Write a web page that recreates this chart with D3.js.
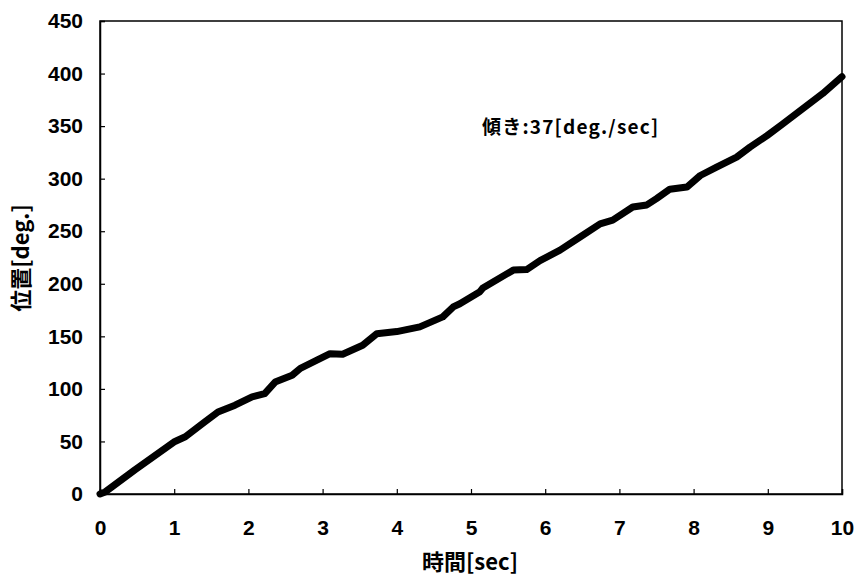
<!DOCTYPE html>
<html>
<head>
<meta charset="utf-8">
<script src="https://cdn.jsdelivr.net/npm/d3@7"></script>
<style>
  html, body { margin: 0; padding: 0; background: #fff; }
  svg { display: block; }
  .tick text { font-family: "Liberation Sans", Arial, sans-serif; font-weight: bold; font-size: 21px; fill: #000; }
  .title { font-family: "Noto Sans CJK JP", "Liberation Sans", sans-serif; font-weight: bold; fill: #000; }
</style>
</head>
<body>
<svg id="chart" width="860" height="577"></svg>
<script>
// Measured angular position against time
const timeSec = [0, 0.07, 0.47, 1.01, 1.15, 1.41, 1.59, 1.82, 2.05, 2.22, 2.36, 2.59, 2.70,
  3.10, 3.27, 3.54, 3.73, 4.00, 4.31, 4.62, 4.76, 4.85, 5.12, 5.16, 5.57, 5.75, 5.93, 6.20,
  6.47, 6.74, 6.91, 7.18, 7.37, 7.50, 7.68, 7.91, 8.09, 8.31, 8.58, 8.76, 8.99, 9.20, 9.47,
  9.74, 10.0];
const positionDeg = [0, 2, 23, 50, 54.5, 68.5, 78, 84.5, 92.5, 95.5, 106.5, 113, 119.5,
  133.5, 133, 141.5, 152.5, 154.5, 159, 168.5, 178, 181, 192.5, 196, 213, 213.5, 222, 232,
  244.5, 257, 260.5, 273, 275, 281, 290, 292, 303, 311, 320.5, 330, 341, 352, 366.5,
  381, 397];

const xTicks = [0, 1, 2, 3, 4, 5, 6, 7, 8, 9, 10];
const yTicks = [0, 50, 100, 150, 200, 250, 300, 350, 400, 450];

const xTitle = "時間[sec]";
const yTitle = "位置[deg.]";
const slopeNote = "傾き:37[deg./sec]";

const svg = d3.select("#chart");
const m = { left: 100, right: 842, top: 21, bottom: 494 };

const x = d3.scaleLinear().domain([0, 10]).range([m.left, m.right]);
const y = d3.scaleLinear().domain([0, 450]).range([m.bottom, m.top]);

// plot frame
svg.append("rect")
  .attr("x", m.left).attr("y", m.top)
  .attr("width", m.right - m.left).attr("height", m.bottom - m.top)
  .attr("fill", "none").attr("stroke", "#000").attr("stroke-width", 1.5);

// axes with inward ticks
const xAxis = svg.append("g")
  .attr("transform", `translate(0,${m.bottom})`)
  .call(d3.axisBottom(x).tickValues(xTicks).tickSize(-5).tickPadding(26).tickFormat(d3.format("d")));
const yAxis = svg.append("g")
  .attr("transform", `translate(${m.left},0)`)
  .call(d3.axisLeft(y).tickValues(yTicks).tickSize(-5).tickPadding(17).tickFormat(d3.format("d")));
[xAxis, yAxis].forEach(g => {
  g.select(".domain").attr("stroke", "#000").attr("stroke-width", 1.5);
  g.selectAll(".tick line").attr("stroke", "#000").attr("stroke-width", 1.2);
});

// data trace
const line = d3.line().x((d, i) => x(timeSec[i])).y(d => y(d));
svg.append("path")
  .attr("d", line(positionDeg))
  .attr("fill", "none").attr("stroke", "#000")
  .attr("stroke-width", 7).attr("stroke-linejoin", "round").attr("stroke-linecap", "round");

// titles
svg.append("text").attr("class", "title")
  .attr("x", 470).attr("y", 570)
  .attr("text-anchor", "middle").attr("font-size", 22)
  .text(xTitle);
svg.append("text").attr("class", "title")
  .attr("transform", `translate(29,258) rotate(-90)`)
  .attr("text-anchor", "middle").attr("font-size", 22)
  .text(yTitle);

// slope annotation
svg.append("text").attr("class", "title")
  .attr("x", 482).attr("y", 134)
  .attr("font-size", 19).attr("letter-spacing", 1.2)
  .text(slopeNote);
</script>
</body>
</html>
